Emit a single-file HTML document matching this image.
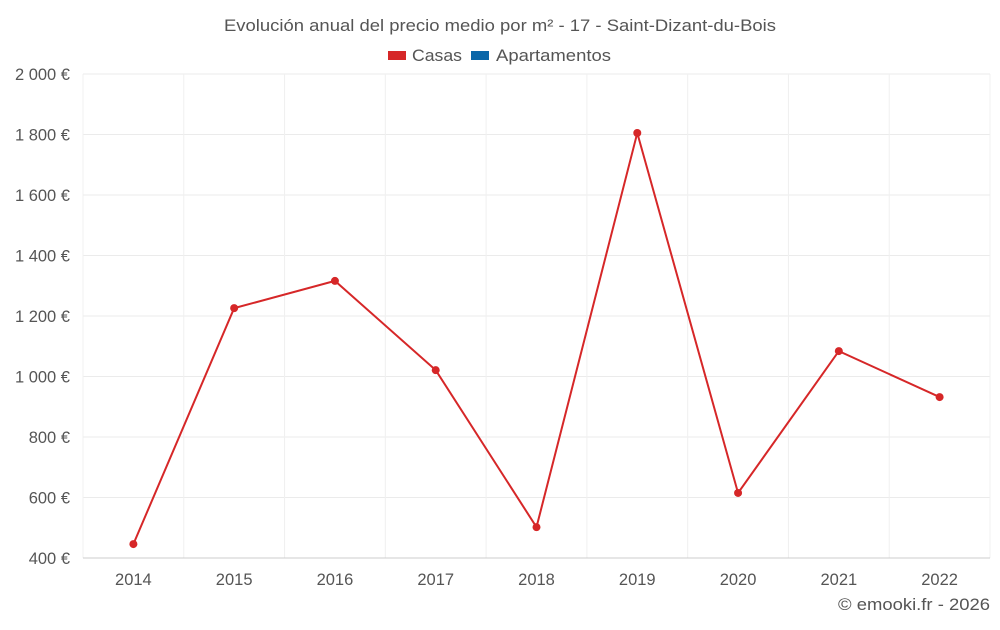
<!DOCTYPE html>
<html><head><meta charset="utf-8"><style>
body{margin:0;background:#fff;font-family:"Liberation Sans",sans-serif;}
svg text{font-family:"Liberation Sans",sans-serif;fill:#555;}
</style></head><body>
<svg id="chart" width="1000" height="625" xmlns="http://www.w3.org/2000/svg">
<text x="224" y="31" font-size="16.5" textLength="552" lengthAdjust="spacingAndGlyphs">Evolución anual del precio medio por m² - 17 - Saint-Dizant-du-Bois</text>
<g>
<g><rect x="388" y="51" width="18" height="9" fill="#d62728"/><text x="412" y="61" font-size="16.5" textLength="50" lengthAdjust="spacingAndGlyphs">Casas</text></g>
<g><rect x="471" y="51" width="18" height="9" fill="#0a66a8"/><text x="496" y="61" font-size="16.5" textLength="115" lengthAdjust="spacingAndGlyphs">Apartamentos</text></g>
</g>
<g id="grid"></g>
<g id="axes"></g>
<g id="series"></g>
<text x="838" y="610" font-size="16.5" textLength="152" lengthAdjust="spacingAndGlyphs">© emooki.fr - 2026</text>
</svg>
<script>
const categories=['2014','2015','2016','2017','2018','2019','2020','2021','2022'];
const casasValues=[446,1226,1316,1021,502,1805,615,1084,932];
const yTicks=[400,600,800,1000,1200,1400,1600,1800,2000];
const yTickLabels=['400 €','600 €','800 €','1 000 €','1 200 €','1 400 €','1 600 €','1 800 €','2 000 €'];
const NS='http://www.w3.org/2000/svg';
const L=83,R=990,T=74,B=558,yMin=400,yMax=2000;
const band=(R-L)/categories.length;
const x=i=>L+band*(i+0.5);
const y=v=>B-(v-yMin)/(yMax-yMin)*(B-T);
function mk(tag,attrs,parent){const e=document.createElementNS(NS,tag);for(const k in attrs)e.setAttribute(k,attrs[k]);parent.appendChild(e);return e;}
const grid=document.getElementById('grid'),axes=document.getElementById('axes'),series=document.getElementById('series');
yTicks.forEach((t,i)=>{
 const g=mk('line',{x1:L,x2:R,y1:y(t),y2:y(t),stroke:'#ebebeb','stroke-width':1},grid);
 
 
 const tx=mk('text',{x:70,y:y(t)+6,'text-anchor':'end','font-size':16.5},axes);
 tx.textContent=yTickLabels[i];
 
 
});
for(let i=0;i<=categories.length;i++){
 const g=mk('line',{x1:L+band*i,x2:L+band*i,y1:T,y2:B,stroke:'#f0f0f0','stroke-width':1},grid);
 
 
}
categories.forEach((c,i)=>{
 const tx=mk('text',{x:x(i),y:585,'text-anchor':'middle','font-size':16.5},axes);
 tx.textContent=c;
 
 
});
const ax=mk('line',{x1:L,x2:R,y1:B,y2:B,stroke:'#ccc','stroke-width':1},axes);


const pl=mk('polyline',{points:casasValues.map((v,i)=>x(i)+','+y(v)).join(' '),fill:'none',stroke:'#d62728','stroke-width':2},series);


casasValues.forEach((v,i)=>{
 const c=mk('circle',{cx:x(i),cy:y(v),r:4,fill:'#d62728'},series);
 
 
});
</script>
</body></html>
